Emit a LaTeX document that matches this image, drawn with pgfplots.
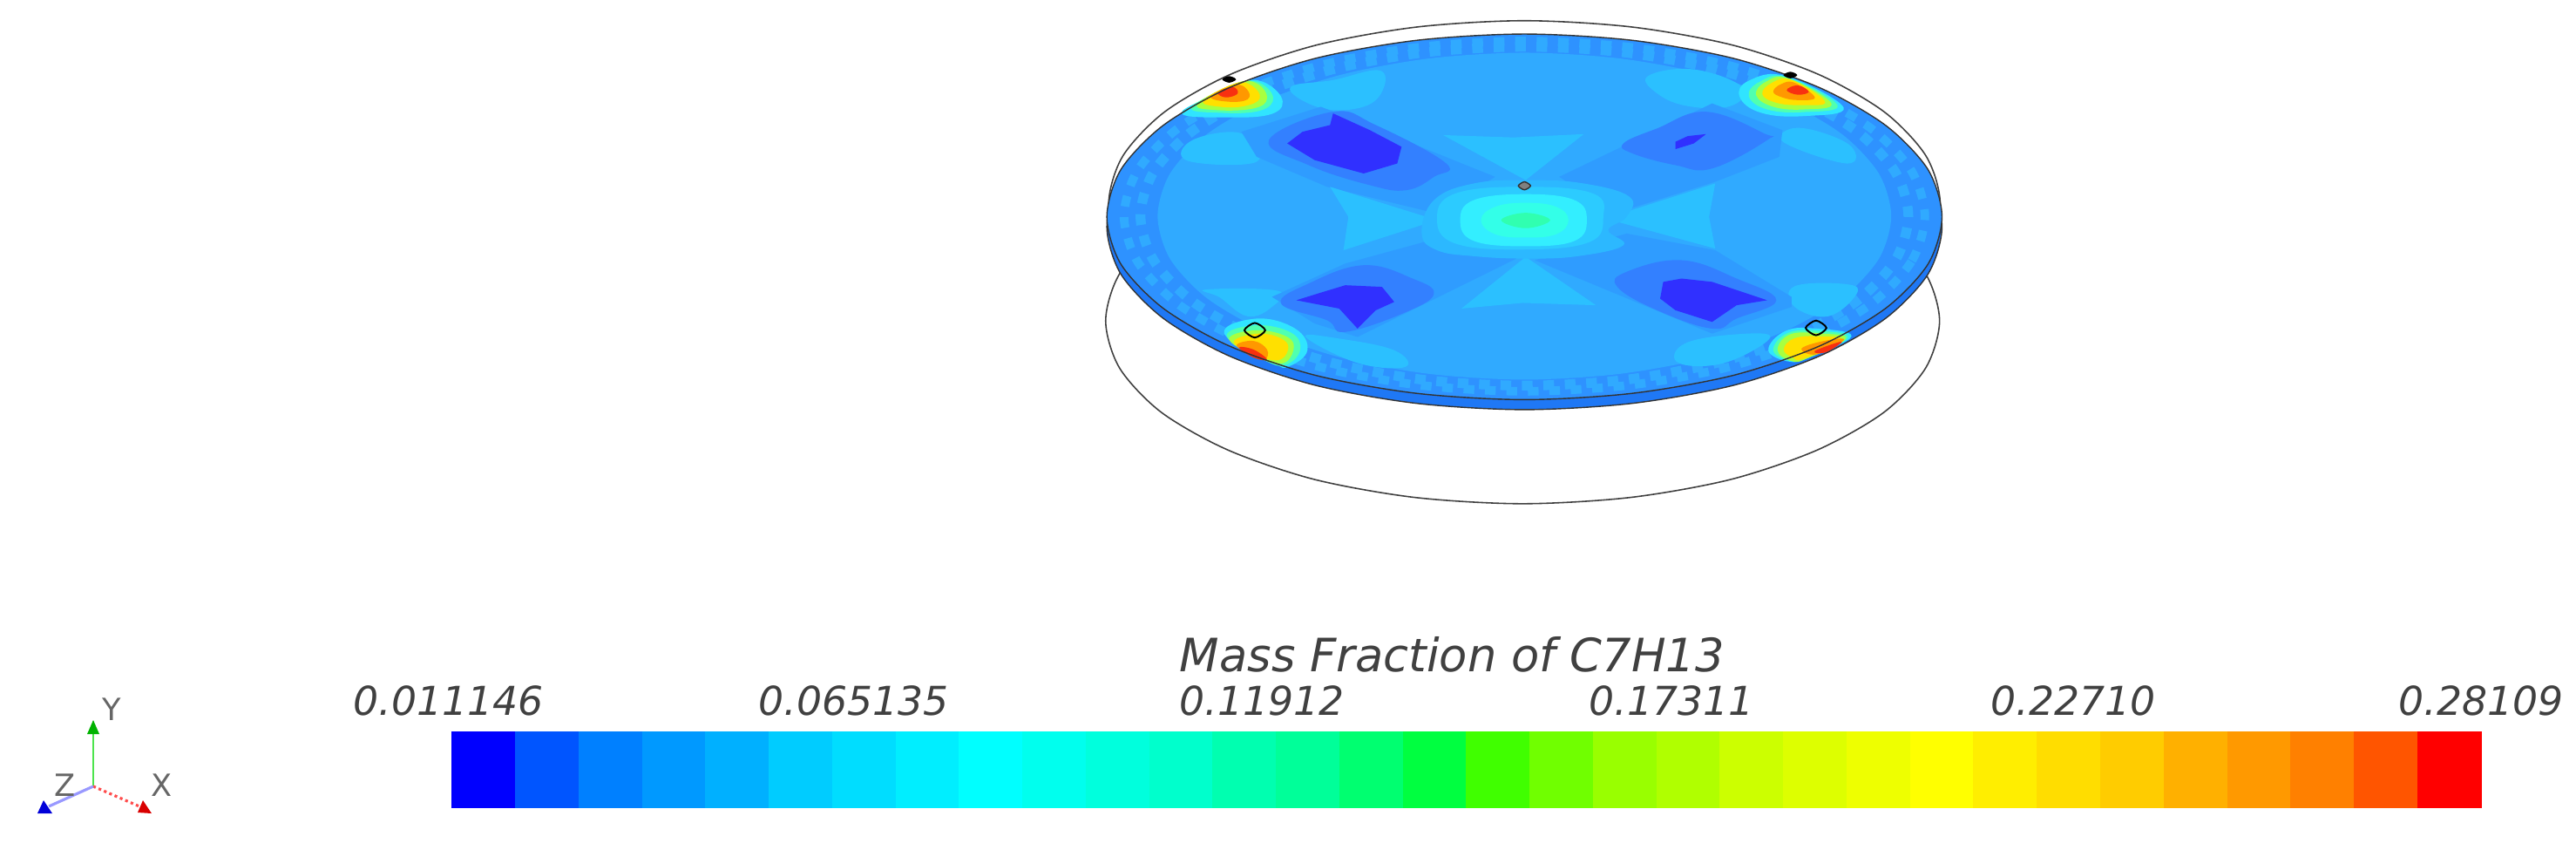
\documentclass[border=0pt]{standalone}
\usepackage{pgfplots}
\usepackage{fontspec}
\pgfplotsset{compat=1.18}
\setmainfont{DejaVu Sans}
\globalcolorstrue

% contour colours of the disc
\definecolor{rim}{HTML}{2E92FF}
\definecolor{edge}{HTML}{1F78F5}
\definecolor{base}{HTML}{30AAFF}
\definecolor{arm}{HTML}{2F9CFF}
\definecolor{wedge}{HTML}{2BC0FF}
\definecolor{med}{HTML}{3380FF}
\definecolor{deep}{HTML}{3030FF}
\definecolor{glow}{HTML}{30E4FF}
\definecolor{gg}{HTML}{50FFB0}
\definecolor{yg}{HTML}{A8FF40}
\definecolor{yel}{HTML}{FFE000}
\definecolor{ora}{HTML}{FF9800}
\definecolor{hot}{HTML}{F83010}
\definecolor{txt}{HTML}{404040}
\definecolor{cena}{HTML}{2CB8FF}
\definecolor{cen}{HTML}{2CCBFF}
\definecolor{cenb}{HTML}{33EEFF}
\definecolor{cenc}{HTML}{33FFE8}
\definecolor{cend}{HTML}{30FFB0}

% one colour bar segment
\newcommand{\seg}[3]{%
  \definecolor{cb#1}{HTML}{#3}%
  \addplot[fill=cb#1,draw=cb#1,line width=0.1pt] coordinates {(#1,926)(#2,926)(#2,839)(#1,839)} -- cycle;}
\newcommand{\lab}[3]{\node[anchor=base west,text=txt,inner sep=0pt,font=\fontsize{#1}{#1}\selectfont\itshape] at (axis cs:#2) {#3};}
\newcommand{\axlab}[2]{\node[anchor=base west,text=black!60,inner sep=0pt,font=\fontsize{10}{10}\selectfont] at (axis cs:#1) {#2};}

\pgfplotsset{
  blob/.style={smooth cycle,tension=0.7,draw=none,fill=#1},
  poly/.style={draw=none,fill=#1},
}

\begin{document}
\begin{tikzpicture}
\useasboundingbox (0,0) rectangle (29.56cm,9.66cm);

% whole canvas, in pixels of the picture: colour bar, labels, triad
\begin{axis}[
  at={(0,0)},anchor=south west,
  scale only axis,width=29.56cm,height=9.66cm,
  xmin=0,xmax=2956,ymin=0,ymax=966,y dir=reverse,
  hide axis,clip=false]
\seg{518}{591}{0000FF}\seg{591}{664}{0055FF}\seg{664}{737}{0080FF}\seg{737}{809}{0099FF}
\seg{809}{882}{00B0FF}\seg{882}{955}{00CCFF}\seg{955}{1028}{00DDFF}\seg{1028}{1100}{00EEFF}
\seg{1100}{1173}{00FFFF}\seg{1173}{1246}{00FFEE}\seg{1246}{1319}{00FFDD}\seg{1319}{1391}{00FFCC}
\seg{1391}{1464}{00FFB0}\seg{1464}{1537}{00FF99}\seg{1537}{1610}{00FF70}\seg{1610}{1682}{00FF40}
\seg{1682}{1755}{40FF00}\seg{1755}{1828}{70FF00}\seg{1828}{1901}{99FF00}\seg{1901}{1973}{B0FF00}
\seg{1973}{2046}{CCFF00}\seg{2046}{2119}{DDFF00}\seg{2119}{2192}{EEFF00}\seg{2192}{2264}{FFFF00}
\seg{2264}{2337}{FFEE00}\seg{2337}{2410}{FFDD00}\seg{2410}{2483}{FFCC00}\seg{2483}{2556}{FFB000}
\seg{2556}{2628}{FF9900}\seg{2628}{2701}{FF8000}\seg{2701}{2774}{FF5500}\seg{2774}{2847}{FF0000}

% triad
\addplot[green!85!black!70,line width=0.5pt] coordinates {(107,902)(107,842)};
\addplot[poly={green!70!black}] coordinates {(100,842)(114,842)(107,826)} -- cycle;
\addplot[red!70,line width=0.9pt,densely dotted] coordinates {(107,902)(160,925)};
\addplot[poly={red!85!black}] coordinates {(158,932)(174,933)(164,918)} -- cycle;
\addplot[blue!40,line width=0.9pt] coordinates {(107,902)(56,925)};
\addplot[poly={blue!85!black}] coordinates {(43,933)(60,933)(50,918)} -- cycle;

\axlab{117,826}{Y}
\axlab{173,913}{X}
\axlab{62,913}{Z}

\lab{15}{1353,770}{Mass Fraction of C7H13}
\lab{13}{405,820}{0.011146}
\lab{13}{870,820}{0.065135}
\lab{13}{1353,820}{0.11912}
\lab{13}{1823,820}{0.17311}
\lab{13}{2284,820}{0.22710}
\lab{13}{2752,820}{0.28109}
\end{axis}

% the disc
\begin{axis}[
  at={(12cm,3.66cm)},anchor=south west,
  scale only axis,width=11cm,height=6cm,
  xmin=0,xmax=1568,ymin=0,ymax=1568,y dir=reverse,
  hide axis,clip=false]
% lower ring
\addplot[smooth cycle,black!75,line width=0.45pt] coordinates {(1462,962)(1439,1104)(1371,1236)(1262,1349)(1121,1437)(957,1491)(780,1510)(603,1491)(439,1437)(298,1349)(189,1236)(121,1104)(98,962)(121,820)(189,688)(298,575)(439,487)(603,433)(780,414)(957,433)(1121,487)(1262,575)(1371,688)(1439,820)};
% upper ring
\addplot[smooth cycle,black!75,line width=0.45pt] coordinates {(1463,610)(1440,752)(1372,884)(1264,997)(1123,1085)(959,1139)(783,1158)(607,1139)(443,1085)(302,997)(194,884)(126,752)(103,610)(126,468)(194,336)(302,223)(443,135)(607,81)(783,62)(959,81)(1123,135)(1264,223)(1372,336)(1440,468)};
% side of the disc
\addplot[smooth cycle,fill=edge,draw=black!80,line width=0.4pt] coordinates {(1466,680)(1443,822)(1374,954)(1266,1067)(1125,1155)(960,1209)(783,1228)(606,1209)(441,1155)(300,1067)(192,954)(123,822)(100,680)(123,538)(192,406)(300,293)(441,205)(606,151)(783,132)(960,151)(1125,205)(1266,293)(1374,406)(1443,538)};
% top face, rim colour
\addplot[smooth cycle,fill=rim,draw=none] coordinates {(1466,650)(1443,792)(1374,924)(1266,1037)(1125,1125)(960,1179)(783,1198)(606,1179)(441,1125)(300,1037)(192,924)(123,792)(100,650)(123,508)(192,376)(300,263)(441,175)(606,121)(783,102)(960,121)(1125,175)(1266,263)(1374,376)(1443,508)};
% chequered rim
\addplot[smooth cycle,base,line width=2.8pt,dash pattern=on 3.5pt off 3.5pt] coordinates {(1438,648)(1416,784)(1350,911)(1246,1019)(1111,1103)(953,1155)(783,1173)(613,1155)(455,1103)(320,1019)(216,911)(150,784)(128,648)(150,512)(216,385)(320,277)(455,193)(613,141)(783,123)(953,141)(1111,193)(1246,277)(1350,385)(1416,512)};
\addplot[smooth cycle,base,line width=3.2pt,dash pattern=on 3.5pt off 3.5pt,dash phase=3.5pt] coordinates {(1411,648)(1390,779)(1327,902)(1227,1007)(1097,1088)(946,1139)(783,1156)(620,1139)(469,1088)(339,1007)(239,902)(176,779)(155,648)(176,517)(239,394)(339,289)(469,208)(620,157)(783,140)(946,157)(1097,208)(1227,289)(1327,394)(1390,517)};
\addplot[smooth cycle,draw=none,fill=base] coordinates {(1383,648)(1363,775)(1303,893)(1207,994)(1083,1072)(938,1121)(783,1138)(628,1121)(483,1072)(359,994)(263,893)(203,775)(183,648)(203,521)(263,403)(359,302)(483,224)(628,175)(783,158)(938,175)(1083,224)(1207,302)(1303,403)(1363,521)};

% light patches near the rim
\addplot[blob=wedge] coordinates {(400,262)(470,240)(548,212)(545,290)(500,328)(440,318)};
\addplot[blob=wedge] coordinates {(985,228)(1060,208)(1140,262)(1120,318)(1050,318)(1000,280)};
\addplot[blob=wedge] coordinates {(232,482)(345,485)(320,400)(240,420)};
\addplot[blob=wedge] coordinates {(1210,430)(1310,490)(1318,440)(1260,392)(1215,388)};
\addplot[blob=wedge] coordinates {(262,868)(380,872)(370,920)(330,948)(285,892)};
\addplot[blob=wedge] coordinates {(1225,858)(1310,852)(1326,882)(1280,948)(1225,920)};
\addplot[blob=wedge] coordinates {(425,1010)(480,1015)(570,1050)(588,1100)(510,1088)};
\addplot[blob=wedge] coordinates {(1035,1088)(1045,1030)(1130,1002)(1185,1012)(1110,1088)};

% diagonal arms
\addplot[poly=arm] coordinates {(320,395)(450,320)(735,530)(640,640)(460,560)(345,470)};
\addplot[poly=arm] coordinates {(1090,310)(1205,390)(1200,470)(1095,545)(930,640)(840,530)};
\addplot[poly=arm] coordinates {(370,890)(490,790)(620,725)(770,775)(510,1010)(440,970)};
\addplot[poly=arm] coordinates {(800,780)(950,700)(1095,750)(1220,890)(1220,920)(1090,1000)};

% wedges between the arms
\addplot[poly=wedge] coordinates {(640,660)(465,560)(495,650)(487,750)};
\addplot[poly=wedge] coordinates {(915,655)(1095,550)(1085,650)(1095,745)};
\addplot[poly=wedge] coordinates {(785,540)(650,405)(765,412)(880,402)};
\addplot[poly=wedge] coordinates {(785,770)(680,925)(780,908)(900,915)};

% medium and darkest patches
\addplot[blob=med] coordinates {(470,335)(540,375)(655,490)(635,530)(590,570)(530,555)(430,495)(365,420)};
\addplot[blob=med] coordinates {(1080,335)(1175,400)(1180,420)(1090,505)(1030,495)(960,460)(945,430)(1000,385)};
\addplot[blob=med] coordinates {(520,795)(600,835)(635,880)(590,935)(490,995)(460,960)(385,910)(430,850)};
\addplot[blob=med] coordinates {(1040,780)(1130,835)(1195,900)(1130,955)(1090,985)(1000,930)(935,860)(950,815)};
\addplot[poly=deep] coordinates {(470,340)(530,390)(582,440)(575,490)(520,520)(440,480)(395,430)(420,395)(465,375)};
\addplot[poly=deep] coordinates {(1080,402)(1060,430)(1030,447)(1030,425)(1050,408)};
\addplot[poly=deep] coordinates {(490,855)(550,860)(570,905)(540,930)(510,985)(480,925)(410,900)(445,880)};
\addplot[poly=deep] coordinates {(1040,835)(1090,845)(1180,900)(1130,915)(1090,965)(1030,930)(1005,895)(1010,845)};

% centre
\addplot[blob=cena] coordinates {(615,700)(635,600)(700,550)(790,540)(880,550)(955,590)(950,650)(920,690)(945,735)(870,768)(785,775)(700,768)(640,750)};
\addplot[blob=cen] coordinates {(640,655)(670,580)(785,560)(895,580)(912,650)(890,725)(785,748)(670,730)};
\addplot[blob=cenb] coordinates {(678,660)(700,600)(785,582)(865,600)(885,660)(865,722)(785,738)(700,722)};
\addplot[blob=cenc] coordinates {(712,660)(735,620)(785,608)(835,620)(855,660)(835,702)(785,712)(735,702)};
\addplot[blob=cend] coordinates {(745,660)(785,638)(825,660)(785,684)};

% hot spots at the four inlets
\addplot[blob=glow] coordinates {(222,338)(300,268)(345,240)(385,290)(372,340)(300,352)};
\addplot[blob=gg] coordinates {(238,322)(305,258)(345,245)(372,292)(350,332)(285,338)};
\addplot[blob=yg] coordinates {(248,312)(310,250)(345,250)(362,295)(340,325)(280,330)};
\addplot[blob=yel] coordinates {(258,302)(310,250)(338,258)(350,295)(325,318)(285,320)};
\addplot[blob=ora] coordinates {(270,290)(310,255)(330,270)(330,298)(300,305)};
\addplot[blob=hot] coordinates {(282,278)(305,260)(314,280)(295,292)};

\addplot[blob=glow] coordinates {(1135,290)(1150,242)(1210,228)(1305,322)(1240,348)(1170,338)};
\addplot[blob=gg] coordinates {(1150,288)(1168,245)(1212,232)(1295,315)(1240,336)(1180,328)};
\addplot[blob=yg] coordinates {(1162,285)(1178,245)(1215,235)(1285,310)(1240,328)(1190,320)};
\addplot[blob=yel] coordinates {(1172,282)(1188,248)(1220,240)(1275,305)(1235,315)(1195,308)};
\addplot[blob=ora] coordinates {(1190,275)(1203,252)(1225,248)(1258,292)(1230,300)(1205,292)};
\addplot[blob=hot] coordinates {(1212,270)(1230,256)(1248,275)(1230,284)};

\addplot[blob=glow] coordinates {(292,1000)(345,955)(408,985)(428,1050)(398,1098)(372,1088)};
\addplot[blob=gg] coordinates {(296,1008)(345,975)(402,998)(416,1050)(392,1094)(358,1080)};
\addplot[blob=yg] coordinates {(300,1015)(345,990)(395,1010)(405,1050)(385,1090)(340,1065)};
\addplot[blob=yel] coordinates {(308,1022)(350,1000)(388,1018)(396,1050)(378,1080)(335,1058)};
\addplot[blob=ora] coordinates {(312,1035)(340,1022)(362,1048)(358,1078)(335,1062)};
\addplot[blob=hot] coordinates {(316,1042)(340,1048)(362,1078)(340,1072)};

\addplot[blob=glow] coordinates {(1182,1050)(1210,992)(1260,985)(1318,1008)(1250,1070)(1216,1084)};
\addplot[blob=gg] coordinates {(1190,1050)(1214,998)(1265,992)(1312,1012)(1248,1072)(1218,1082)};
\addplot[blob=yg] coordinates {(1197,1050)(1218,1002)(1270,1000)(1308,1016)(1245,1075)(1220,1082)};
\addplot[blob=yel] coordinates {(1207,1047)(1225,1014)(1265,1008)(1302,1020)(1240,1075)(1222,1072)};
\addplot[blob=ora] coordinates {(1236,1046)(1268,1024)(1306,1018)(1262,1062)};
\addplot[blob=hot] coordinates {(1258,1052)(1302,1024)(1276,1056)};

% outline of the top face
\addplot[smooth cycle,black!80,line width=0.4pt] coordinates {(1466,650)(1443,792)(1374,924)(1266,1037)(1125,1125)(960,1179)(783,1198)(606,1179)(441,1125)(300,1037)(192,924)(123,792)(100,650)(123,508)(192,376)(300,263)(441,175)(606,121)(783,102)(960,121)(1125,175)(1266,263)(1374,376)(1443,508)};

% holes
\addplot[smooth cycle,fill=black!50,draw=black!80,line width=0.4pt] coordinates {(793,557)(783,569)(773,557)(783,545)};
\addplot[smooth cycle,draw=black,line width=0.55pt] coordinates {(359,990)(342,1012)(325,990)(342,968)};
\addplot[smooth cycle,draw=black,line width=0.55pt] coordinates {(1277,983)(1260,1005)(1243,983)(1260,961)};
\addplot[smooth cycle,fill=black,draw=black,line width=0.4pt] coordinates {(310,238)(300,246)(290,238)(300,230)};
\addplot[smooth cycle,fill=black,draw=black,line width=0.4pt] coordinates {(1228,225)(1218,233)(1208,225)(1218,217)};
\end{axis}
\end{tikzpicture}
\end{document}
